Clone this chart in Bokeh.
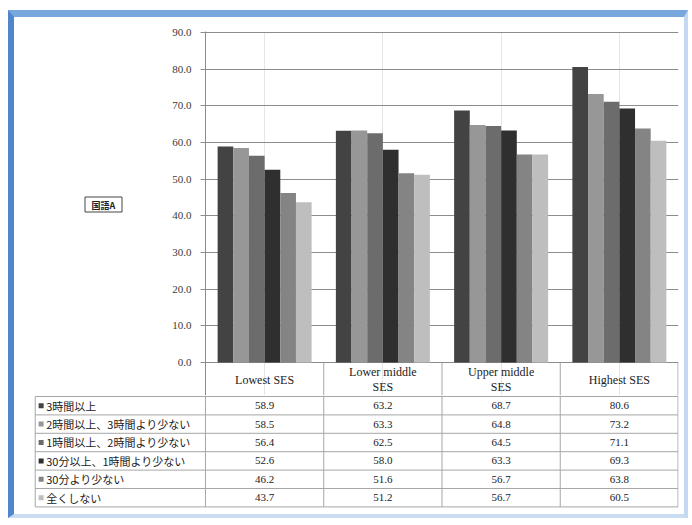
from bokeh.plotting import figure
from bokeh.layouts import column, row
from bokeh.models import (ColumnDataSource, FactorRange, Range1d, FixedTicker,
                          NumeralTickFormatter)
from bokeh.transform import dodge
from bokeh.embed import file_html
from bokeh.resources import INLINE
from bokeh.core.properties import value

# --- data -------------------------------------------------------------
categories = ["Lowest SES", "Lower middle SES", "Upper middle SES", "Highest SES"]
header_labels = ["Lowest SES", "Lower middle\nSES", "Upper middle\nSES", "Highest SES"]

series_names = [
    "3時間以上",
    "2時間以上、3時間より少ない",
    "1時間以上、2時間より少ない",
    "30分以上、1時間より少ない",
    "30分より少ない",
    "全くしない",
]

hours_3_plus = [58.9, 63.2, 68.7, 80.6]
hours_2_to_3 = [58.5, 63.3, 64.8, 73.2]
hours_1_to_2 = [56.4, 62.5, 64.5, 71.1]
mins_30_to_60 = [52.6, 58.0, 63.3, 69.3]
under_30_mins = [46.2, 51.6, 56.7, 63.8]
not_at_all = [43.7, 51.2, 56.7, 60.5]

y_ticks = [0, 10, 20, 30, 40, 50, 60, 70, 80, 90]
axis_title = "国語A"

# --- styling ----------------------------------------------------------
series_keys = ["s1", "s2", "s3", "s4", "s5", "s6"]
series_values = [hours_3_plus, hours_2_to_3, hours_1_to_2,
                 mins_30_to_60, under_30_mins, not_at_all]
colors = ["#434343", "#979797", "#6c6c6c", "#2f2f2f", "#848484", "#bebebe"]
grid_color = "#8c8c8c"
table_color = "#a6a6a6"
text_color = "#222222"
serif = "Liberation Serif"
cjk = "Noto Sans CJK JP"

bar_w = 0.1325
n = len(categories)
n_rows = len(series_names)


def blank(fig):
    fig.outline_line_color = None
    fig.background_fill_color = "white"
    fig.border_fill_color = "white"
    fig.grid.visible = False


# --- title box to the left of the value axis ---------------------------
title_fig = figure(width=145, height=378,
                   x_range=Range1d(33, 159), y_range=Range1d(395, 31),
                   x_axis_location=None, y_axis_location=None,
                   toolbar_location=None, output_backend="svg",
                   min_border_left=19, min_border_right=0,
                   min_border_top=14, min_border_bottom=0)
blank(title_fig)
title_fig.rect(x=[103], y=[204], width=37, height=15,
               fill_color="white", line_color="#444444", line_width=1)
title_fig.text(x=[103], y=[204.5], text=[axis_title],
               text_align="center", text_baseline="middle",
               text_font=value(cjk), text_font_size="9px",
               text_font_style="bold", text_color=text_color)

# --- bar chart (table header row sits beneath the zero line) ----------
chart = figure(width=525, height=378,
               x_range=FactorRange(factors=categories),
               y_range=Range1d(-9.0, 90.27),
               x_axis_location=None,
               toolbar_location=None, output_backend="svg",
               min_border_left=46, min_border_right=6,
               min_border_top=14, min_border_bottom=0)
chart.outline_line_color = None
chart.background_fill_color = "white"
chart.border_fill_color = "white"

yax = chart.yaxis[0]
yax.ticker = FixedTicker(ticks=y_ticks)
yax.formatter = NumeralTickFormatter(format="0.0")
yax.axis_line_color = grid_color
yax.major_tick_line_color = grid_color
yax.major_tick_out = 5
yax.major_tick_in = 0
yax.minor_tick_line_color = None
yax.major_label_standoff = 9
yax.major_label_text_font = serif
yax.major_label_text_font_size = "11px"
yax.major_label_text_color = "#3a3a3a"
chart.ygrid.ticker = FixedTicker(ticks=y_ticks)
chart.ygrid.grid_line_color = grid_color

src = ColumnDataSource(dict(cat=categories, **dict(zip(series_keys, series_values))))
for k, (key, color) in enumerate(zip(series_keys, colors)):
    chart.vbar(x=dodge("cat", (k - 2.5) * bar_w, range=chart.x_range),
               top=key, bottom=0, width=bar_w, source=src,
               fill_color=color, line_color=None)

chart.text(x=categories, y=[-4.64] * n, text=header_labels,
           text_align="center", text_baseline="middle",
           text_font=value(serif), text_font_size="12px", text_color=text_color,
           text_line_height=1.05)
chart.segment(x0=[1, 2, 3, n - 0.004], y0=[-9.0] * 4,
              x1=[1, 2, 3, n - 0.004], y1=[0] * 4,
              line_color=table_color, line_width=1)

# --- data table rows --------------------------------------------------
label_left = -1.44
table = figure(width=670, height=119,
               x_range=Range1d(-1.4545, 4.0),
               y_range=Range1d(6.087, -0.0543),
               x_axis_location=None, y_axis_location=None,
               toolbar_location=None, output_backend="svg",
               min_border_left=19, min_border_right=6,
               min_border_top=0, min_border_bottom=6)
blank(table)

# horizontal rules
table.segment(x0=[label_left] * (n_rows + 1), y0=list(range(n_rows + 1)),
              x1=[n - 0.004] * (n_rows + 1), y1=list(range(n_rows + 1)),
              line_color=table_color, line_width=1)
# vertical rules
vx = [label_left] + list(range(n)) + [n - 0.004]
vy0 = [0] + [-0.06] * (n + 1)
table.segment(x0=vx, y0=vy0, x1=vx, y1=[n_rows] * len(vx),
              line_color=table_color, line_width=1)

cell_x, cell_y, cell_t = [], [], []
for r, vals in enumerate(series_values):
    for c, v in enumerate(vals):
        cell_x.append(c + 0.5)
        cell_y.append(r + 0.5)
        cell_t.append(f"{v:.1f}")
table.text(x=cell_x, y=cell_y, text=cell_t,
           text_align="center", text_baseline="middle",
           text_font=value(serif), text_font_size="11px", text_color=text_color)

rows_y = [r + 0.5 for r in range(n_rows)]
table.scatter(x=[label_left + 0.05] * n_rows, y=rows_y, marker="square",
              size=5, fill_color=colors, line_color=None)
table.text(x=[label_left] * n_rows, y=rows_y, text=series_names, x_offset=11,
           text_align="left", text_baseline="middle",
           text_font=value(cjk), text_font_size="11px", text_color=text_color)

page = column(row(title_fig, chart), table, styles={
    "margin-left": "8px",
    "margin-top": "10px",
    "border-left": "6px solid #4f86cc",
    "border-top": "7px solid #78a7de",
    "border-right": "4px solid #c4d9f1",
    "border-bottom": "4px solid #c9dcf2",
    "background-color": "white",
})

open("out.html", "w").write(file_html(page, INLINE))
